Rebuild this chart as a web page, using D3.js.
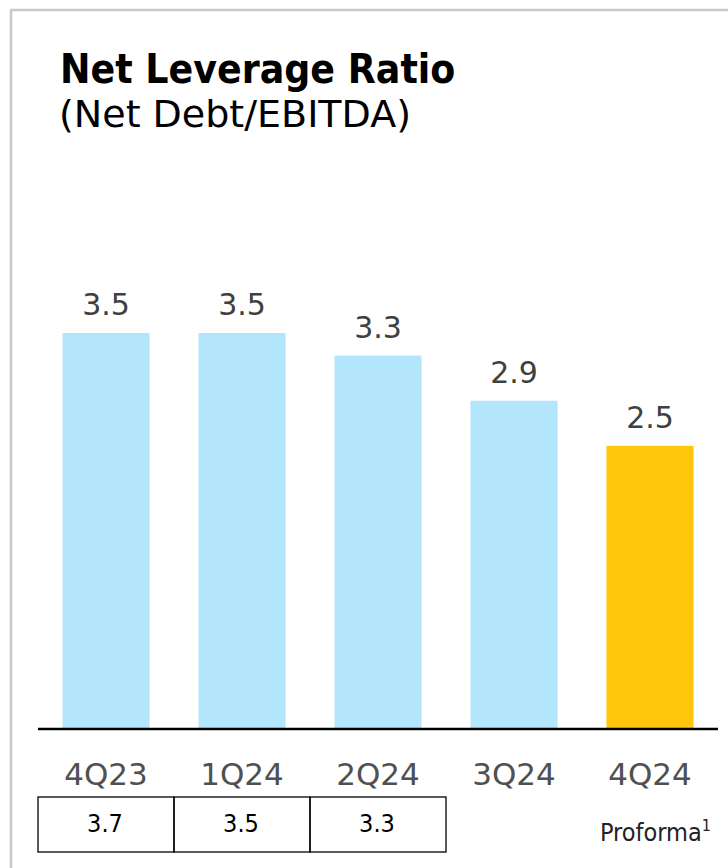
<!DOCTYPE html>
<html>
<head>
<meta charset="utf-8">
<script src="https://cdn.jsdelivr.net/npm/d3@7"></script>
<style>
  body { margin: 0; background: #fff; }
  svg text { font-family: "DejaVu Sans Condensed", "DejaVu Sans", sans-serif; }
</style>
</head>
<body>
<div id="chart"></div>
<script>
var quarters = ["4Q23", "1Q24", "2Q24", "3Q24", "4Q24"];
var leverage = [3.5, 3.5, 3.3, 2.9, 2.5];
var tableVals = ["3.7", "3.5", "3.3"];   // row under the first three quarters

var width = 728, height = 868;
var baseY = 728;

var svg = d3.select("#chart")
            .append("svg")
            .attr("width", width)
            .attr("height", height)

// light grey frame, open to the right and bottom
svg.append("path")
   .attr("d", "M11," + height + " V10 H" + width)
   .attr("fill", "none")
   .attr("stroke", "#c8c8c8")
   .attr("stroke-width", 2.5)

svg.append("text")
   .attr("x", 60).attr("y", 83)
   .attr("font-size", 40.5)
   .attr("font-weight", "bold")
   .attr("fill", "#000")
   .text("Net Leverage Ratio")

svg.append("text")
   .attr("x", 59).attr("y", 127)
   .style("font-family", "'DejaVu Sans', sans-serif")
   .attr("font-size", 38)
   .attr("fill", "#000")
   .text("(Net Debt/EBITDA)")

var x = d3.scaleBand()
          .domain(quarters)
          .range([38, 718])
          .paddingInner(0.36)
          .paddingOuter(0.18)

var y = d3.scaleLinear()
          .domain([0, 3.5])
          .range([baseY, 333])

var data = quarters.map((q, i) => ({q: q, v: leverage[i], last: i == quarters.length - 1}))

var bars = svg.selectAll(".bar")
              .data(data)
              .enter()
              .append("g")
              .attr("class", "bar")

bars.append("rect")
    .attr("x", d => x(d.q))
    .attr("y", d => y(d.v))
    .attr("width", x.bandwidth())
    .attr("height", d => baseY - y(d.v))
    .attr("fill", d => d.last ? "#ffc60b" : "#b3e5fc")

bars.append("text")
    .attr("x", d => x(d.q) + x.bandwidth() / 2)
    .attr("y", d => y(d.v) - 18)
    .attr("text-anchor", "middle")
    .style("font-family", "'DejaVu Sans', sans-serif")
    .attr("font-size", 30)
    .attr("fill", "#404040")
    .text(d => d.v.toFixed(1))

// baseline
svg.append("line")
   .attr("x1", 38).attr("x2", 718)
   .attr("y1", baseY + 1).attr("y2", baseY + 1)
   .attr("stroke", "#000")
   .attr("stroke-width", 2.5)

// category labels
svg.append("g")
   .selectAll("text")
   .data(quarters)
   .enter()
   .append("text")
   .attr("x", d => x(d) + x.bandwidth() / 2)
   .attr("y", 785)
   .attr("text-anchor", "middle")
   .style("font-family", "'DejaVu Sans', sans-serif")
   .attr("font-size", 31)
   .attr("fill", "#505050")
   .text(d => d)

// small table under the first three quarters
var step = x.step();
var cells = svg.append("g")
               .selectAll("g")
               .data(tableVals)
               .enter()
               .append("g")

cells.append("rect")
     .attr("x", (d, i) => x(quarters[i]) + x.bandwidth() / 2 - step / 2)
     .attr("y", 797)
     .attr("width", step)
     .attr("height", 55)
     .attr("fill", "none")
     .attr("stroke", "#000")
     .attr("stroke-width", 1.3)

cells.append("text")
     .attr("x", (d, i) => x(quarters[i]) + x.bandwidth() / 2 - 1)
     .attr("y", 832)
     .attr("text-anchor", "middle")
     .attr("font-size", 25)
     .attr("fill", "#000")
     .text(d => d)

svg.append("text")
   .attr("x", 600).attr("y", 841)
   .attr("font-size", 25)
   .attr("fill", "#222")
   .text("Proforma")
   .append("tspan")
   .attr("font-size", 16)
   .attr("dy", -10)
   .text("1")
</script>
</body>
</html>
